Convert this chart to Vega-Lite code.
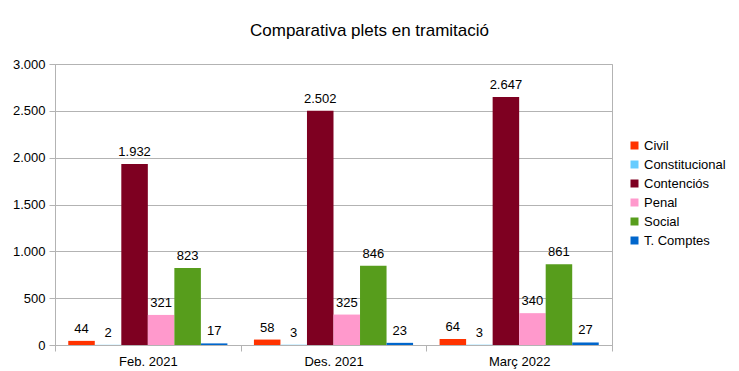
{
  "$schema": "https://vega.github.io/schema/vega-lite/v6.json",
  "width": 557,
  "height": 281,
  "autosize": "none",
  "padding": {"left": 55, "top": 64, "right": 127, "bottom": 26},
  "background": "white",
  "config": {
    "font": "Liberation Sans",
    "locale": {"number": {"decimal": ",", "thousands": ".", "grouping": [3], "currency": ["", " €"]}},
    "view": {"stroke": "#b3b3b3", "strokeWidth": 1}
  },
  "title": {
    "text": "Comparativa plets en tramitació",
    "font": "Liberation Sans",
    "fontSize": 17,
    "fontWeight": "normal",
    "color": "#000000",
    "anchor": "middle",
    "frame": "group",
    "dx": 36,
    "offset": 18
  },
  "data": {
    "values": [
      {"periode": "Feb. 2021", "tipus": "Civil", "valor": 44},
      {"periode": "Feb. 2021", "tipus": "Constitucional", "valor": 2},
      {"periode": "Feb. 2021", "tipus": "Contenciós", "valor": 1932},
      {"periode": "Feb. 2021", "tipus": "Penal", "valor": 321},
      {"periode": "Feb. 2021", "tipus": "Social", "valor": 823},
      {"periode": "Feb. 2021", "tipus": "T. Comptes", "valor": 17},
      {"periode": "Des. 2021", "tipus": "Civil", "valor": 58},
      {"periode": "Des. 2021", "tipus": "Constitucional", "valor": 3},
      {"periode": "Des. 2021", "tipus": "Contenciós", "valor": 2502},
      {"periode": "Des. 2021", "tipus": "Penal", "valor": 325},
      {"periode": "Des. 2021", "tipus": "Social", "valor": 846},
      {"periode": "Des. 2021", "tipus": "T. Comptes", "valor": 23},
      {"periode": "Març 2022", "tipus": "Civil", "valor": 64},
      {"periode": "Març 2022", "tipus": "Constitucional", "valor": 3},
      {"periode": "Març 2022", "tipus": "Contenciós", "valor": 2647},
      {"periode": "Març 2022", "tipus": "Penal", "valor": 340},
      {"periode": "Març 2022", "tipus": "Social", "valor": 861},
      {"periode": "Març 2022", "tipus": "T. Comptes", "valor": 27}
    ]
  },
  "encoding": {
    "x": {
      "field": "periode",
      "type": "nominal",
      "sort": ["Feb. 2021", "Des. 2021", "Març 2022"],
      "scale": {"paddingInner": 0, "paddingOuter": 0},
      "axis": {
        "title": null,
        "labelAngle": 0,
        "labelFont": "Liberation Sans",
        "labelFontSize": 13,
        "labelColor": "#000000",
        "labelPadding": 4,
        "domainColor": "#b3b3b3",
        "tickColor": "#b3b3b3",
        "tickSize": 6,
        "tickBand": "extent"
      }
    },
    "xOffset": {
      "field": "tipus",
      "type": "nominal",
      "sort": ["Civil", "Constitucional", "Contenciós", "Penal", "Social", "T. Comptes"],
      "scale": {"paddingInner": 0, "paddingOuter": 0.5}
    },
    "y": {
      "field": "valor",
      "type": "quantitative",
      "scale": {"domain": [0, 3000], "nice": false},
      "axis": {
        "title": null,
        "values": [0, 500, 1000, 1500, 2000, 2500, 3000],
        "format": ",d",
        "labelFont": "Liberation Sans",
        "labelFontSize": 13,
        "labelColor": "#000000",
        "labelPadding": 4,
        "gridColor": "#b3b3b3",
        "domainColor": "#b3b3b3",
        "tickColor": "#b3b3b3",
        "tickSize": 6
      }
    }
  },
  "layer": [
    {
      "mark": {"type": "bar"},
      "encoding": {
        "color": {
          "field": "tipus",
          "type": "nominal",
          "sort": ["Civil", "Constitucional", "Contenciós", "Penal", "Social", "T. Comptes"],
          "scale": {
            "domain": ["Civil", "Constitucional", "Contenciós", "Penal", "Social", "T. Comptes"],
            "range": ["#ff3300", "#66ccff", "#7e0021", "#ff99cc", "#579d1c", "#0066cc"]
          },
          "legend": {
            "title": null,
            "orient": "none",
            "legendX": 573,
            "legendY": 75,
            "symbolType": "square",
            "symbolSize": 64,
            "symbolStrokeWidth": 0,
            "labelFont": "Liberation Sans",
            "labelFontSize": 13,
            "labelColor": "#000000",
            "labelOffset": 3,
            "rowPadding": 5
          }
        }
      }
    },
    {
      "mark": {"type": "text", "baseline": "bottom", "dy": -5, "font": "Liberation Sans", "fontSize": 13, "color": "#000000"},
      "encoding": {
        "text": {"field": "valor", "type": "quantitative", "format": ",d"}
      }
    }
  ]
}
